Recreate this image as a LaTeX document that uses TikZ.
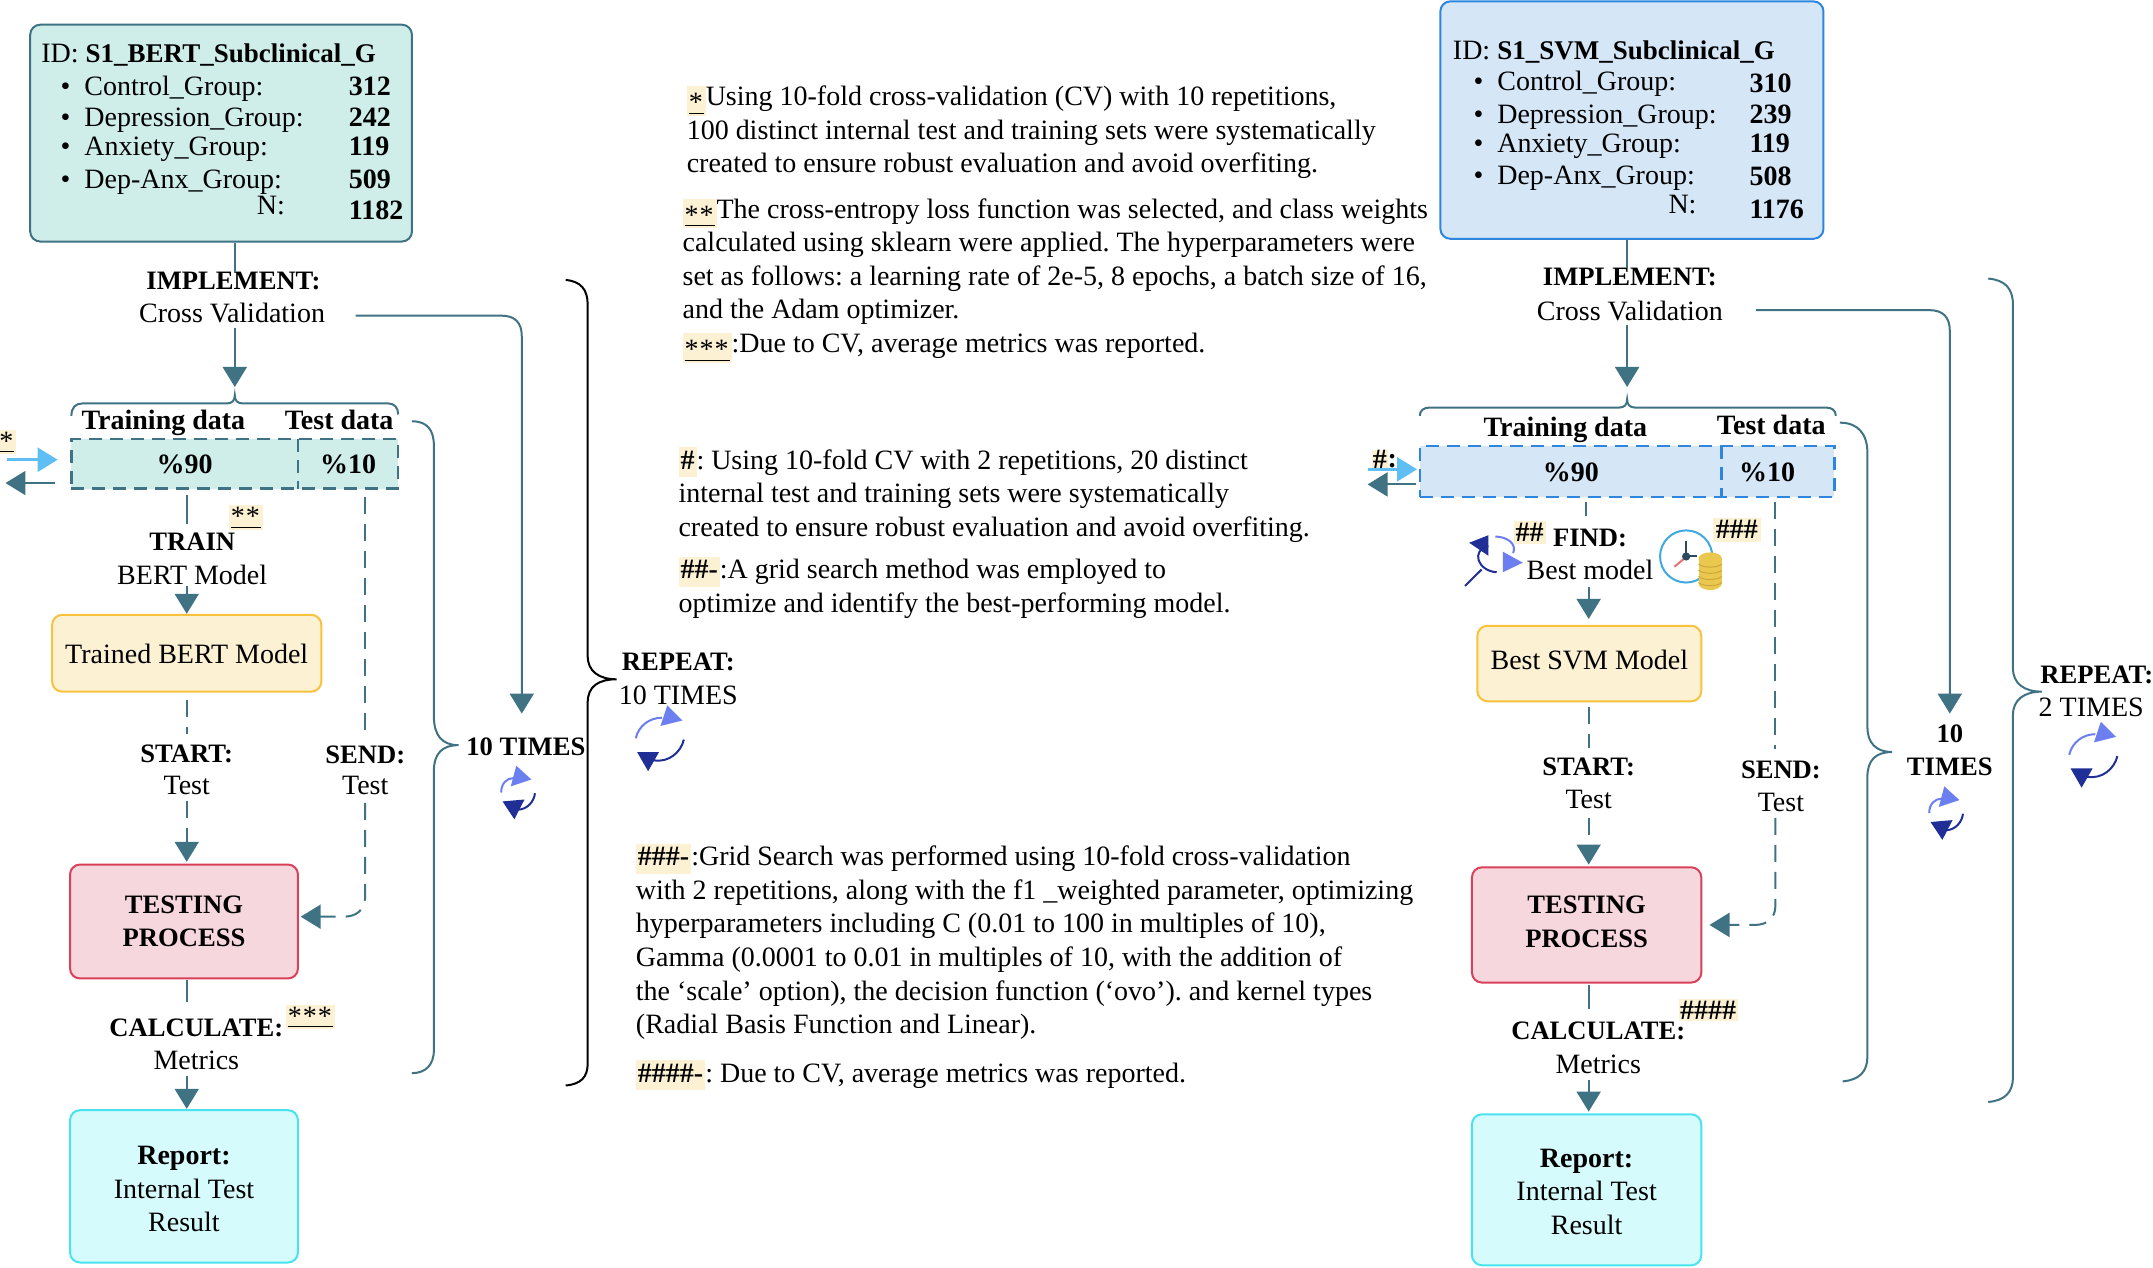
\documentclass[tikz,border=0pt]{standalone}
\usepackage{fontspec}
\setmainfont{Liberation Serif}
\usetikzlibrary{arrows.meta,fit}
\frenchspacing
\definecolor{teal1}{HTML}{3F7282}
\definecolor{tealfill}{HTML}{CFEEEA}
\definecolor{bluefill}{HTML}{D5E6F7}
\definecolor{blueline}{HTML}{2E86DE}
\definecolor{yelfill}{HTML}{FDF1D3}
\definecolor{yelline}{HTML}{F8C33C}
\definecolor{redfill}{HTML}{F6D7DD}
\definecolor{redline}{HTML}{D9405A}
\definecolor{cyanfill}{HTML}{D5FBFD}
\definecolor{cyanline}{HTML}{48E3EF}
\definecolor{hlc}{HTML}{FDF1D3}
\definecolor{cycL}{HTML}{6C7FF0}
\definecolor{cycD}{HTML}{1F2F96}
\definecolor{skyarrow}{HTML}{5FBFF5}
\definecolor{clockc}{HTML}{3FA9E0}
\definecolor{handc}{HTML}{2B4A5E}
\definecolor{handr}{HTML}{E87070}
\definecolor{coinc}{HTML}{EAC850}
\definecolor{coinl}{HTML}{C9A83A}
\newcommand{\hl}[1]{\smash{{\setlength{\fboxsep}{2pt}\colorbox{hlc}{\rule[-8pt]{0pt}{25pt}\underline{#1}}}}}
\newcommand{\hn}[1]{\smash{{\setlength{\fboxsep}{2pt}\colorbox{hlc}{\rule[-6pt]{0pt}{26pt}\textbf{#1}}}}}
\newcommand{\myast}{\raisebox{-.22em}{*}\kern1pt}
\newcommand{\bc}[1]{{\fontsize{26.6}{33.6}\selectfont\bfseries #1}}
\tikzset{
  every node/.style={font=\fontsize{28}{33.6}\selectfont,text=black},
  txt/.style={inner sep=0pt,anchor=base,yshift=-10pt},
  txl/.style={inner sep=0pt,anchor=base west,yshift=-10pt},
  para/.style={inner sep=0pt,anchor=north west,align=left,yshift=10.5pt},
  bx/.style={inner sep=0pt,rounded corners=10pt,line width=2pt},
  lb/.style={inner sep=0pt,align=center},
  conn/.style={draw=teal1,line width=2pt},
  dsh/.style={conn,dash pattern=on 17pt off 10pt},
  arr/.style={conn,-{Triangle[width=24pt,length=20pt,fill=teal1]}},
  darr/.style={dsh,-{Triangle[width=24pt,length=20pt,fill=teal1]}},
  skyarr/.style={draw=skyarrow,line width=2.5pt,-{Triangle[width=24pt,length=20pt,fill=skyarrow]}},
  dbox/.style={line width=2.5pt,dash pattern=on 13pt off 8pt,inner sep=0pt},
  cyc/.pic={
    \draw[cycL,line width=2pt] (-17,0) .. controls (-15,-9) and (-7,-15) .. (2,-15);
    \fill[cycL] (6,-24) -- (17,-13) -- (1,-9) -- cycle;
    \draw[cycD,line width=2pt] (18,1) .. controls (16,10) and (7,18) .. (-4,16);
    \fill[cycD] (-16,10) -- (0,10) -- (-8,24) -- cycle;
  },
  cycs/.pic={
    \draw[cycL,line width=2pt] (-12,0.5) .. controls (-12,-6) and (-8,-10) .. (-3,-10);
    \fill[cycL] (-1,-19) -- (10,-9) -- (-5,-4) -- cycle;
    \draw[cycD,line width=2pt] (12.6,1) .. controls (12,7) and (7,13) .. (0,13);
    \fill[cycD] (-11,7) -- (5,5.6) -- (-2.4,20) -- cycle;
  },
}
\begin{document}
\begin{tikzpicture}[x=1.3731pt,y=-1.3723pt]
\useasboundingbox (0,0) rectangle (1568,924);
\fill[white] (0,0) rectangle (1568,924);

%% LEFT COLUMN
\node[bx,draw=teal1,fill=tealfill,fit={(22,18)(300,176)}] (idL) {};
\node[txl] (idLt) at (30,38) {ID: {\fontsize{27}{33.6}\selectfont\bfseries S1\_BERT\_Subclinical\_G}};
\node[txl] (l1) at (44,62) {•\hspace{14pt}Control\_Group:};
\node[txl] (l2) at (44,85) {•\hspace{14pt}Depression\_Group:};
\node[txl] (l3) at (44,106) {•\hspace{14pt}Anxiety\_Group:};
\node[txl] (l4) at (44,130) {•\hspace{14pt}Dep-Anx\_Group:};
\node[txl] (l5) at (187,149) {N:};
\node[txl] (n1) at (254,62) {\textbf{312}};
\node[txl] (n2) at (254,85) {\textbf{242}};
\node[txl] (n3) at (254,106) {\textbf{119}};
\node[txl] (n4) at (254,130) {\textbf{509}};
\node[txl] (n5) at (254,153) {\textbf{1182}};

\node[txt] (implL) at (170,204) {\bc{IMPLEMENT:}};
\node[txt] (cvL) at (169,228) {Cross Validation};
\coordinate (xL) at (171,0);
\draw[conn] (xL |- idL.south) -- (xL |- implL.north);
\draw[arr] (xL |- cvL.south) ++(0,3) -- (171,282);
\coordinate (cvLend) at (380,520);
\draw[arr] (259,230) -- (365,230) .. controls (375,230) and (380,235) .. (380,245) -- (cvLend);

\draw[conn] (52,303) .. controls (52,297) and (55,294) .. (60,294) -- (165,294) .. controls (169,294) and (171,292) .. (171,288) .. controls (171,292) and (173,294) .. (177,294) -- (283,294) .. controls (287,294) and (290,297) .. (290,302);
\node[txt] (trL) at (119,306) {\textbf{Training data}};
\node[txt] (teL) at (247,306) {\textbf{Test data}};
\node[dbox,draw=teal1,fill=tealfill,fit={(52,320)(290,356)}] (dataL) {};
\node[inner sep=0pt,fit={(52,320)(217,356)},label={[lb,yshift=-1pt]center:\textbf{\%90}}] (p90L) {};
\node[inner sep=0pt,fit={(217,320)(290,356)},label={[lb,yshift=-1pt]center:\textbf{\%10}}] (p10L) {};
\draw[teal1,dbox] (p10L.north west) -- (p10L.south west);
\node[inner sep=2pt,fill=hlc] (aL) at (5,322) {\underline{\myast}};
\coordinate (inL) at (5,335); \coordinate (outL) at (4,352);
\draw[skyarr] (inL) -- (42,335);
\draw[arr] (40,352) -- (outL);

\coordinate (a1) at (136,361);
\node[txt] (train) at (140,394) {\bc{TRAIN}};
\node[txt] (bert) at (140,419) {BERT Model};
\node[inner sep=2pt,fill=hlc] (a2) at (179,377) {\underline{\myast\myast}};
\node[bx,draw=yelline,fill=yelfill,fit={(38,448)(234,504)},label={[lb,yshift=-1pt]center:Trained BERT Model}] (tb) {};
\draw[conn] (a1) -- (136,382);
\draw[arr] (136,427) -- (tb.north -| a1);
\node[txt] (startL) at (136,548) {\bc{START:}};
\node[txt] (testLa) at (136,572) {Test};
\node[bx,draw=redline,fill=redfill,fit={(51,630)(217,713)},label={[lb]center:{\bc{TESTING}\\\bc{PROCESS}}}] (tpL) {};
\draw[dsh] (136,510) -- (136,535);
\draw[darr] (136,584) -- (136,628);
\node[txt] (sendL) at (266,549) {\bc{SEND:}};
\node[txt] (testLb) at (266,572) {Test};
\draw[dsh] (266,362) -- (266,536);
\draw[darr] (266,585) -- (266,652) .. controls (266,663) and (260,668) .. (250,668) -- (219,668);
\draw[conn] (136,714) -- (136,730);
\node[txt] (calcL) at (143,748) {\bc{CALCULATE:}};
\node[inner sep=2pt,fill=hlc] (a3) at (226,741) {\underline{\myast\myast\myast}};
\node[txt] (metL) at (143,772) {Metrics};
\node[bx,draw=cyanline,fill=cyanfill,fit={(51,809)(217,920)},label={[lb,yshift=-3pt]center:{\textbf{Report:}\\Internal Test\\Result}}] (repL) {};
\draw[arr] (136,784) -- (136,808);

\draw[conn] (300,307) .. controls (311,307) and (316,313) .. (316,325) -- (316,522) .. controls (316,536) and (322,543) .. (334,543) .. controls (322,543) and (316,549) .. (316,562) -- (316,765) .. controls (316,776) and (310,782) .. (300,782);
\node[txt] (t10L) at (383,543) {\bc{10 TIMES}};
\pic at (377,577) {cycs};
\draw[black,line width=2pt] (412,204) .. controls (423,205) and (428,211) .. (428,222) -- (428,478) .. controls (428,489) and (436,495) .. (449,495) .. controls (436,495) and (428,500) .. (428,512) -- (428,775) .. controls (428,785) and (423,790) .. (412,791);
\node[txt] (repeatL) at (494,481) {\bc{REPEAT:}};
\node[txt] (timesL) at (494,506) {10 TIMES};
\pic at (480,538) {cyc};

%% MIDDLE TEXT
\node[para] (m1) at (500,70) {\hl{\myast}Using 10-fold cross-validation (CV) with 10 repetitions,\\100 distinct internal test and training sets were systematically\\created to ensure robust evaluation and avoid overfiting.};
\node[para] (m2) at (497,152) {\hl{\myast\myast}The cross-entropy loss function was selected, and class weights\\calculated using sklearn were applied. The hyperparameters were\\set as follows: a learning rate of 2e-5, 8 epochs, a batch size of 16,\\and the Adam optimizer.\\\hl{\myast\myast\myast}:Due to CV, average metrics was reported.};
\node[para] (m3) at (494,335) {\hn{\#}: Using 10-fold CV with 2 repetitions, 20 distinct\\internal test and training sets were systematically\\created to ensure robust evaluation and avoid overfiting.};
\node[para] (m4) at (494,415) {\hn{\#\#-}:A grid search method was employed to\\optimize and identify the best-performing model.};
\node[para] (m5) at (463,624) {\hn{\#\#\#-}:Grid Search was performed using 10-fold cross-validation\\with 2 repetitions, along with the f1 \_weighted parameter, optimizing\\hyperparameters including C (0.01 to 100 in multiples of 10),\\Gamma (0.0001 to 0.01 in multiples of 10, with the addition of\\the ‘scale’ option), the decision function (‘ovo’). and kernel types\\(Radial Basis Function and Linear).};
\node[para] (m6) at (463,782) {\hn{\#\#\#\#-}: Due to CV, average metrics was reported.};

%% RIGHT COLUMN
\node[bx,draw=blueline,fill=bluefill,fit={(1049,1)(1328,174)}] (idR) {};
\node[txl] (idRt) at (1058,36) {ID: {\fontsize{27}{33.6}\selectfont\bfseries S1\_SVM\_Subclinical\_G}};
\node[txl] (r1) at (1073,59) {•\hspace{14pt}Control\_Group:};
\node[txl] (r2) at (1073,83) {•\hspace{14pt}Depression\_Group:};
\node[txl] (r3) at (1073,104) {•\hspace{14pt}Anxiety\_Group:};
\node[txl] (r4) at (1073,127) {•\hspace{14pt}Dep-Anx\_Group:};
\node[txl] (r5) at (1215,148) {N:};
\node[txl] (m1n) at (1274,60) {\textbf{310}};
\node[txl] (m2n) at (1274,83) {\textbf{239}};
\node[txl] (m3n) at (1274,104) {\textbf{119}};
\node[txl] (m4n) at (1274,128) {\textbf{508}};
\node[txl] (m5n) at (1274,152) {\textbf{1176}};

\node[txt] (implR) at (1187,201) {\bc{IMPLEMENT:}};
\node[txt] (cvR) at (1187,226) {Cross Validation};
\coordinate (xR) at (1185,0);
\draw[conn] (xR |- idR.south) -- (xR |- implR.north);
\draw[arr] (xR |- cvR.south) ++(0,3) -- (1185,282);
\draw[arr] (1279,226) -- (1405,226) .. controls (1415,226) and (1420,231) .. (1420,241) -- (1420,520);

\draw[conn] (1034,303) .. controls (1034,299) and (1037,297) .. (1041,297) -- (1179,297) .. controls (1183,297) and (1185,295) .. (1185,291) .. controls (1185,295) and (1187,297) .. (1191,297) -- (1330,297) .. controls (1334,297) and (1337,299) .. (1337,303);
\node[txt] (trR) at (1140,311) {\textbf{Training data}};
\node[txt] (teR) at (1290,309) {\textbf{Test data}};
\node[dbox,draw=blueline,fill=bluefill,fit={(1034,325)(1336,362)}] (dataR) {};
\node[inner sep=0pt,fit={(1034,325)(1254,362)},label={[lb,yshift=-1pt]center:\textbf{\%90}}] (p90R) {};
\node[inner sep=0pt,fit={(1254,325)(1320,362)},label={[lb,yshift=-1pt]center:\textbf{\%10}}] (p10R) {};
\draw[blueline,dbox] (p10R.north west) -- (p10R.south west);
\node[inner sep=1pt,fill=hlc] (h0) at (1005,335) {\textbf{\#}};
\node[inner sep=0pt] (h0c) at (1014,336) {\textbf{:}};
\draw[skyarr] (996,342) -- (1032,342);
\draw[arr] (1031,353) -- (996,353);

\draw[conn] (1155,366) -- (1155,376);
\node[inner sep=2pt,fill=hlc] (h2) at (1114,388) {\textbf{\#\#}};
\node[txt] (findR) at (1158,391) {\bc{FIND:}};
\node[txt] (bestm) at (1158,415) {Best model};
\node[inner sep=3pt,fill=hlc] (h3) at (1265,386) {\textbf{\#\#\#}};
\node[bx,draw=yelline,fill=yelfill,fit={(1076,456)(1239,511)},label={[lb,yshift=4pt]center:Best SVM Model}] (bs) {};
\draw[arr] (1157,428) -- (1157,451);

% search icon
\begin{scope}[shift={(1088,404)}]
  \draw[cycD,line width=2pt] (-4,-6) .. controls (-17,-3) and (-12,12) .. (2,13);
  \fill[cycD] (-18,-8.5) -- (-4,-14) -- (-4,1) -- cycle;
  \draw[cycL,line width=2pt] (1,-13) .. controls (9,-13) and (17,-8) .. (14,-1);
  \fill[cycL] (6.5,-2) -- (21,6) -- (6.5,13) -- cycle;
  \draw[cycD,line width=2pt] (-9,11) -- (-21,23);
\end{scope}
% clock and coins
\begin{scope}[shift={(1228,405.5)}]
  \draw[clockc,line width=2pt,fill=white] (0,0) circle[radius=19];
  \draw[handc,line width=2pt] (0,-11) -- (0,0) -- (8,0);
  \draw[handr,line width=2pt] (-2,2) -- (-8.5,7.5);
  \fill[handc] (0,0) circle[radius=3];
\end{scope}
\fill[coinc] (1237,407) rectangle (1254,425);
\fill[coinc] (1245.5,407) ellipse[x radius=8.5,y radius=4.5];
\fill[coinc] (1245.5,425) ellipse[x radius=8.5,y radius=5];
\foreach \yy in {411,415.5,420,424.5}
  \draw[coinl,line width=1pt] (1237,\yy) .. controls (1240,\yy+3) and (1251,\yy+3) .. (1254,\yy);

\node[txt] (startR) at (1157,558) {\bc{START:}};
\node[txt] (testRa) at (1157,582) {Test};
\draw[dsh] (1157,515) -- (1157,545);
\node[bx,draw=redline,fill=redfill,fit={(1072,632)(1239,716)},label={[lb,yshift=3pt]center:{\bc{TESTING}\\\bc{PROCESS}}}] (tpR) {};
\draw[darr] (1157,596) -- (1157,630);
\node[txt] (sendR) at (1297,560) {\bc{SEND:}};
\node[txt] (testRb) at (1297,584) {Test};
\draw[dsh] (1293,366) -- (1293,546);
\draw[darr] (1293,596) -- (1293,660) .. controls (1293,669) and (1287,674) .. (1278,674) -- (1245,674);
\draw[conn] (1157,718) -- (1157,735);
\node[txt] (calcR) at (1164,750) {\bc{CALCULATE:}};
\node[inner sep=1.5pt,fill=hlc] (h4) at (1244,736) {\textbf{\#\#\#\#}};
\node[txt] (metR) at (1164,775) {Metrics};
\node[bx,draw=cyanline,fill=cyanfill,fit={(1072,812)(1239,922)},label={[lb,yshift=-2pt]center:{\textbf{Report:}\\Internal Test\\Result}}] (repR) {};
\draw[arr] (1157,787) -- (1157,810);

\draw[conn] (1340,308) .. controls (1353,308) and (1360,316) .. (1360,330) -- (1360,530) .. controls (1360,541) and (1366,548) .. (1378,548) .. controls (1366,548) and (1360,554) .. (1360,566) -- (1360,770) .. controls (1360,781) and (1354,787) .. (1342,788);
\node[txt] (t10Ra) at (1420,534) {\bc{10}};
\node[txt] (t10Rb) at (1420,558) {\bc{TIMES}};
\pic at (1417,592) {cycs};
\draw[conn] (1448,203) .. controls (1460,204) and (1466,210) .. (1466,222) -- (1466,487) .. controls (1466,498) and (1474,504) .. (1487,504) .. controls (1474,504) and (1466,510) .. (1466,521) -- (1466,785) .. controls (1466,796) and (1460,802) .. (1448,803);
\node[txt] (repeatR) at (1527,491) {\bc{REPEAT:}};
\node[txt] (timesR) at (1523,515) {2 TIMES};
\pic at (1524,550) {cyc};
\end{tikzpicture}
\end{document}
